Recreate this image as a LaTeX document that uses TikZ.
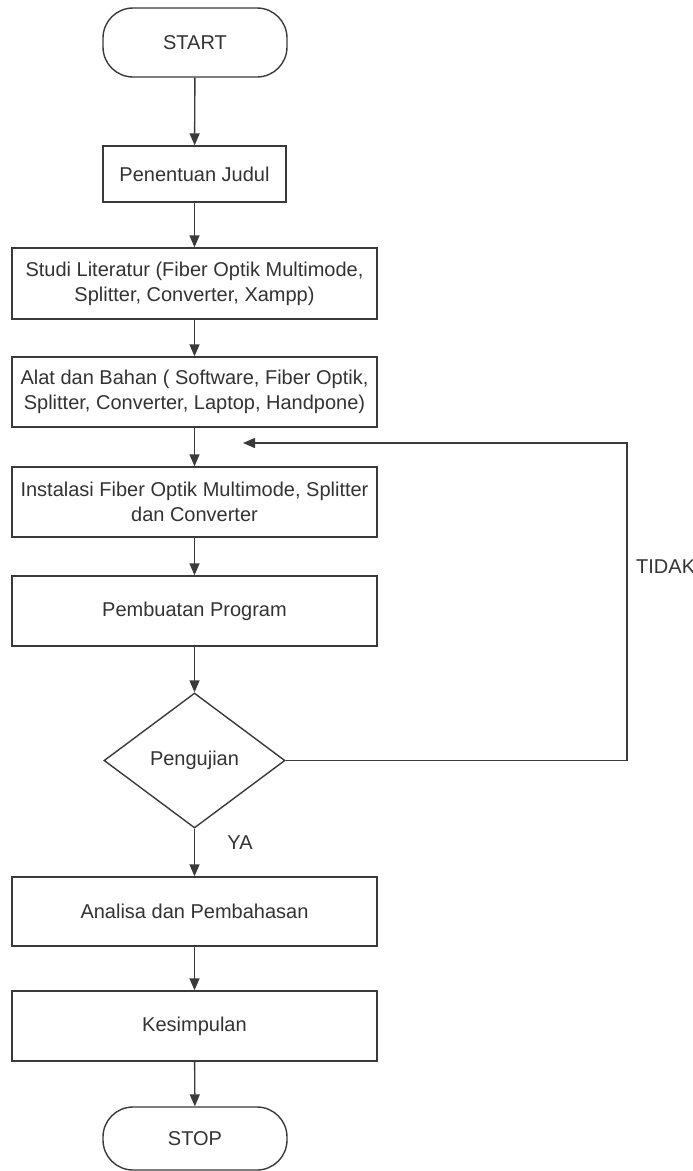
\documentclass[tikz,border=0pt]{standalone}
\usepackage{fontspec}
\setmainfont{Liberation Sans}
\usetikzlibrary{shapes.geometric,arrows.meta}
\definecolor{ln}{HTML}{3A3A3A}
\definecolor{tx}{HTML}{333333}
\begin{document}
\begin{tikzpicture}[x=1pt,y=1pt,
  every node/.style={font=\fontsize{20}{25}\selectfont, text=tx},
  base/.style={draw=ln, line width=1.4pt, fill=white, inner sep=2pt, align=center},
  procbox/.style={base, rectangle, minimum width=365pt},
  smallbox/.style={base, rectangle, minimum width=183pt, minimum height=56pt},
  term/.style={base, rectangle, rounded corners=30pt, minimum width=184pt},
  decision/.style={base, diamond, aspect=1.34, minimum width=181pt, minimum height=135pt, inner sep=0pt},
  conn/.style={draw=ln, line width=1.4pt},
  arr/.style={conn, -{Triangle[length=12pt,width=10pt]}},
  lbl/.style={inner sep=0pt}
]
\useasboundingbox (0,0) rectangle (693,-1171);
\node[term, minimum height=69pt] (start) at (195,-42.5) {START};
\node[smallbox] (judul) at (194.5,-174) {Penentuan Judul};
\node[procbox, minimum height=71pt] (studi) at (194.5,-283.5) {Studi Literatur (Fiber Optik Multimode,\\Splitter, Converter, Xampp)};
\node[procbox, minimum height=70pt] (alat) at (194.5,-392) {Alat dan Bahan ( Software, Fiber Optik,\\Splitter, Converter, Laptop, Handpone)};
\node[procbox, minimum height=70pt] (inst) at (194.5,-502) {Instalasi Fiber Optik Multimode, Splitter\\dan Converter};
\node[procbox, minimum height=70pt] (prog) at (194.5,-611) {Pembuatan Program};
\node[decision] (uji) at (194.5,-760.5) {Pengujian};
\node[procbox, minimum height=69pt] (anal) at (194.5,-911.5) {Analisa dan Pembahasan};
\node[procbox, minimum height=70pt] (kes) at (194.5,-1026) {Kesimpulan};
\node[term, minimum height=63pt] (stop) at (195,-1138.5) {STOP};

\draw[arr] (start) -- (judul);
\draw[arr] (judul) -- (studi);
\draw[arr] (studi) -- (alat);
\draw[arr] (alat) -- (inst);
\draw[arr] (inst) -- (prog);
\draw[arr] (prog) -- (uji);
\draw[arr] (uji) -- (anal);
\draw[arr] (anal) -- (kes);
\draw[arr] (kes) -- (stop);

\coordinate (c1) at (627,-760.5);
\coordinate (c2) at (627,-443);
\coordinate (c3) at (243,-443);
\draw[arr] (uji.east) -- (c1) -- (c2) -- (c3);

\node[lbl, anchor=west] (tidak) at (636,-567) {TIDAK};
\node[lbl] (ya) at (240,-843) {YA};
\end{tikzpicture}
\end{document}
